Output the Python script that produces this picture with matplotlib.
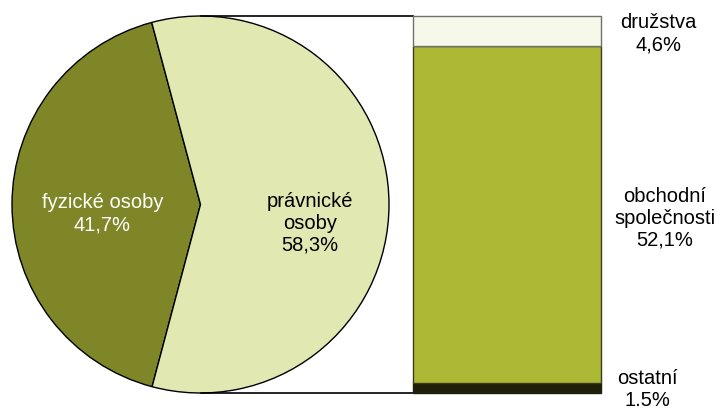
import numpy as np
import matplotlib
matplotlib.use("Agg")
import matplotlib.pyplot as plt

plt.rcParams['font.family'] = ['Liberation Sans', 'DejaVu Sans']

# Data
pie_labels = ["fyzické osoby", "právnické osoby"]
pie_text = ["fyzické osoby\n41,7%", "právnické\nosoby\n58,3%"]
pie_values = [41.7, 58.3]
pie_colors = ["#7F8627", "#E2E8B2"]

bar_labels = ["ostatní", "obchodní společnosti", "družstva"]
bar_text = ["ostatní\n1.5%", "obchodní\nspolečnosti\n52,1%", "družstva\n4,6%"]
bar_values = [1.5, 52.1, 4.6]
bar_colors = ["#1F1F0A", "#ADB834", "#F6F8EA"]
bar_edges = ["#1F1F0A", "#3A3A20", "#707070"]

W, H = 721, 409
fig = plt.figure(figsize=(W / 100, H / 100), dpi=100)
ax = fig.add_axes([0, 0, 1, 1])

cx, cy, R = 200.5, 204.5, 188.5
wedges, _ = ax.pie(pie_values, colors=pie_colors, startangle=105, counterclock=True,
                   center=(cx, cy), radius=R, frame=True,
                   wedgeprops=dict(edgecolor='black', linewidth=1.0))
ax.set_xlim(0, W)
ax.set_ylim(0, H)
ax.set_aspect('equal')
ax.axis('off')

text_colors = ["white", "black"]
dists = [0.52, 0.58]
yoff = [-9, -19]
for w, t, c, d, yo in zip(wedges, pie_text, text_colors, dists, yoff):
    ang = np.deg2rad((w.theta1 + w.theta2) / 2)
    ax.text(cx + d * R * np.cos(ang), cy + d * R * np.sin(ang) + yo, t,
            ha='center', va='center', color=c, fontsize=14.5, linespacing=1.2)

# Stacked bar
bx0, bw = 413, 188
ybot, ytop = 16, 393
scale = (ytop - ybot) / sum(bar_values)
bottom = ybot
for v, col, ec in zip(bar_values, bar_colors, bar_edges):
    ax.bar(bx0 + bw / 2, v * scale, width=bw, bottom=bottom, color=col,
           edgecolor=ec, linewidth=1.0, zorder=3)
    bottom += v * scale

# connector lines
ax.plot([cx, bx0], [ytop, ytop], color='black', lw=1.2, zorder=2)
ax.plot([cx, bx0], [ybot, ybot], color='black', lw=1.2, zorder=2)

# bar labels
lab_pos = [(647, 409 - 390), (665, 409 - 218), (658, 409 - 34)]
for t, (x, y) in zip(bar_text, lab_pos):
    ax.text(x, y, t, ha='center', va='center', fontsize=14.5, color='black',
            linespacing=1.2)

fig.savefig("out.png", dpi=100)
